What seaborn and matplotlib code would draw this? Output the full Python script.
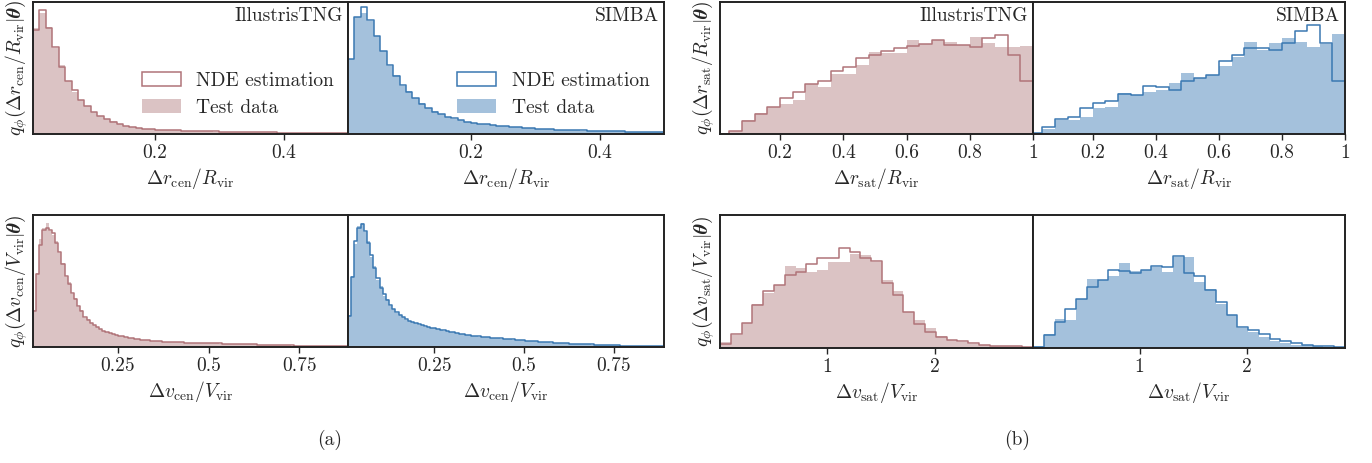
import numpy as np
import matplotlib
matplotlib.use('Agg')
import matplotlib.pyplot as plt
from matplotlib.patches import Patch
import seaborn as sns

# ---- data (normalised histogram heights) ----
rcen_edges = np.linspace(0.01, 0.50, 50)
vcen_tng_edges = np.linspace(0.016, 0.884, 101)
vcen_simba_edges = np.linspace(0.01, 0.89, 101)
rsat_edges = np.linspace(0.0, 1.0, 26)
vsat_edges = np.linspace(0.01, 2.91, 30)

tng_rcen_nde = [0.79, 0.94, 0.80, 0.66, 0.51, 0.40, 0.33, 0.26, 0.21, 0.17,
                0.135, 0.115, 0.093, 0.077, 0.062, 0.055, 0.047, 0.041, 0.036, 0.033,
                0.031, 0.029, 0.027, 0.025, 0.024, 0.022, 0.021, 0.020, 0.019, 0.018,
                0.017, 0.016, 0.015, 0.015, 0.014, 0.013, 0.013, 0.012, 0.011, 0.011,
                0.010, 0.010, 0.009, 0.009, 0.008, 0.008, 0.008, 0.007, 0.007]
tng_rcen_test = [0.80, 0.92, 0.81, 0.65, 0.52, 0.40, 0.32, 0.26, 0.21, 0.165,
                 0.135, 0.112, 0.095, 0.075, 0.064, 0.054, 0.048, 0.040, 0.037, 0.032,
                 0.031, 0.028, 0.027, 0.026, 0.023, 0.022, 0.021, 0.020, 0.018, 0.018,
                 0.017, 0.016, 0.015, 0.014, 0.014, 0.013, 0.012, 0.012, 0.011, 0.011,
                 0.010, 0.009, 0.009, 0.009, 0.008, 0.008, 0.007, 0.007, 0.007]

simba_rcen_nde = [0.57, 0.89, 0.96, 0.86, 0.74, 0.63, 0.52, 0.44, 0.37, 0.32,
                  0.27, 0.23, 0.20, 0.17, 0.15, 0.13, 0.118, 0.103, 0.093, 0.083,
                  0.078, 0.072, 0.067, 0.063, 0.059, 0.055, 0.051, 0.047, 0.043, 0.040,
                  0.038, 0.036, 0.034, 0.032, 0.030, 0.028, 0.027, 0.025, 0.024, 0.022,
                  0.021, 0.020, 0.019, 0.018, 0.016, 0.015, 0.014, 0.013, 0.012]
simba_rcen_test = [0.57, 0.885, 0.92, 0.855, 0.74, 0.625, 0.515, 0.445, 0.365, 0.325,
                   0.27, 0.232, 0.198, 0.172, 0.148, 0.132, 0.116, 0.104, 0.092, 0.084,
                   0.077, 0.073, 0.066, 0.063, 0.058, 0.055, 0.050, 0.047, 0.044, 0.040,
                   0.038, 0.035, 0.034, 0.031, 0.030, 0.028, 0.026, 0.025, 0.023, 0.022,
                   0.021, 0.019, 0.019, 0.017, 0.016, 0.015, 0.014, 0.013, 0.012]

tng_vcen_nde = [0.27, 0.55, 0.77, 0.89, 0.90, 0.89, 0.86, 0.79, 0.72, 0.63,
                0.54, 0.48, 0.41, 0.36, 0.31, 0.27, 0.23, 0.205, 0.185, 0.165,
                0.15, 0.135, 0.125, 0.115, 0.105, 0.10, 0.09, 0.085, 0.08, 0.075,
                0.07, 0.066, 0.063, 0.058, 0.056, 0.053, 0.05, 0.048, 0.046, 0.043,
                0.042, 0.041, 0.040, 0.039, 0.038, 0.037, 0.036, 0.035, 0.034, 0.033,
                0.033, 0.032, 0.032, 0.031, 0.030, 0.030, 0.029, 0.028, 0.027, 0.027,
                0.026, 0.025, 0.025, 0.024, 0.023, 0.023, 0.022, 0.021, 0.020, 0.020,
                0.019, 0.018, 0.018, 0.017, 0.016, 0.016, 0.015, 0.015, 0.014, 0.013,
                0.013, 0.012, 0.012, 0.011, 0.011, 0.010, 0.010, 0.009, 0.009, 0.008,
                0.008, 0.007, 0.007, 0.007, 0.006, 0.006, 0.005, 0.005, 0.005, 0.004]
tng_vcen_test = [0.28, 0.56, 0.82, 0.90, 0.94, 0.88, 0.85, 0.80, 0.71, 0.64,
                 0.53, 0.49, 0.40, 0.37, 0.30, 0.28, 0.22, 0.21, 0.18, 0.168,
                 0.148, 0.137, 0.122, 0.117, 0.103, 0.10, 0.092, 0.084, 0.081, 0.074,
                 0.071, 0.065, 0.063, 0.059, 0.055, 0.053, 0.051, 0.047, 0.046, 0.044,
                 0.042, 0.040, 0.040, 0.038, 0.038, 0.036, 0.036, 0.035, 0.033, 0.033,
                 0.032, 0.032, 0.031, 0.031, 0.030, 0.029, 0.029, 0.028, 0.027, 0.026,
                 0.026, 0.025, 0.024, 0.024, 0.023, 0.022, 0.022, 0.021, 0.020, 0.019,
                 0.019, 0.018, 0.017, 0.017, 0.016, 0.016, 0.015, 0.014, 0.014, 0.013,
                 0.013, 0.012, 0.011, 0.011, 0.010, 0.010, 0.009, 0.009, 0.008, 0.008,
                 0.008, 0.007, 0.007, 0.006, 0.006, 0.006, 0.005, 0.005, 0.004, 0.004]

simba_vcen_nde = [0.235, 0.53, 0.80, 0.90, 0.93, 0.88, 0.79, 0.70, 0.60, 0.52,
                  0.45, 0.40, 0.355, 0.32, 0.29, 0.265, 0.245, 0.225, 0.21, 0.20,
                  0.19, 0.18, 0.172, 0.165, 0.158, 0.152, 0.147, 0.142, 0.137, 0.132,
                  0.127, 0.122, 0.117, 0.112, 0.107, 0.102, 0.098, 0.094, 0.090, 0.087,
                  0.084, 0.081, 0.078, 0.075, 0.073, 0.071, 0.069, 0.067, 0.065, 0.063,
                  0.061, 0.059, 0.057, 0.055, 0.053, 0.051, 0.049, 0.047, 0.045, 0.043,
                  0.041, 0.040, 0.038, 0.036, 0.035, 0.033, 0.032, 0.030, 0.029, 0.028,
                  0.026, 0.025, 0.024, 0.023, 0.022, 0.021, 0.020, 0.019, 0.018, 0.017,
                  0.016, 0.015, 0.014, 0.014, 0.013, 0.012, 0.011, 0.011, 0.010, 0.009,
                  0.009, 0.008, 0.008, 0.007, 0.007, 0.006, 0.006, 0.005, 0.005, 0.005]
simba_vcen_test = [0.24, 0.54, 0.78, 0.92, 0.94, 0.87, 0.80, 0.68, 0.61, 0.51,
                   0.46, 0.39, 0.36, 0.31, 0.29, 0.26, 0.24, 0.228, 0.207, 0.198,
                   0.186, 0.181, 0.168, 0.166, 0.155, 0.153, 0.144, 0.141, 0.135, 0.131,
                   0.125, 0.121, 0.115, 0.111, 0.105, 0.101, 0.096, 0.093, 0.089, 0.085,
                   0.083, 0.079, 0.077, 0.074, 0.072, 0.070, 0.068, 0.066, 0.064, 0.062,
                   0.060, 0.058, 0.056, 0.054, 0.052, 0.050, 0.048, 0.046, 0.044, 0.042,
                   0.041, 0.039, 0.037, 0.036, 0.034, 0.033, 0.031, 0.030, 0.028, 0.027,
                   0.026, 0.025, 0.023, 0.022, 0.021, 0.020, 0.019, 0.018, 0.017, 0.016,
                   0.016, 0.015, 0.014, 0.013, 0.012, 0.012, 0.011, 0.010, 0.010, 0.009,
                   0.008, 0.008, 0.007, 0.007, 0.006, 0.006, 0.005, 0.005, 0.005, 0.004]

tng_rsat_nde = [0.0, 0.023, 0.10, 0.155, 0.205, 0.27, 0.315, 0.375, 0.405, 0.48,
                0.51, 0.575, 0.60, 0.63, 0.65, 0.665, 0.685, 0.715, 0.675, 0.675,
                0.66, 0.725, 0.75, 0.60, 0.40]
tng_rsat_test = [0.0, 0.023, 0.105, 0.16, 0.205, 0.23, 0.255, 0.375, 0.355, 0.455,
                 0.455, 0.525, 0.62, 0.61, 0.61, 0.715, 0.685, 0.715, 0.70, 0.675,
                 0.735, 0.69, 0.66, 0.66, 0.667]
simba_rsat_nde = [0.01, 0.055, 0.11, 0.13, 0.20, 0.235, 0.25, 0.305, 0.295, 0.365,
                  0.355, 0.335, 0.40, 0.425, 0.45, 0.55, 0.60, 0.655, 0.65, 0.635,
                  0.69, 0.78, 0.825, 0.69, 0.40]
simba_rsat_test = [0.005, 0.035, 0.105, 0.105, 0.125, 0.20, 0.205, 0.31, 0.295, 0.315,
                   0.335, 0.385, 0.465, 0.425, 0.45, 0.515, 0.58, 0.70, 0.635, 0.69,
                   0.725, 0.70, 0.66, 0.68, 0.755]

tng_vsat_nde = [0.033, 0.105, 0.19, 0.32, 0.43, 0.475, 0.55, 0.57, 0.63, 0.675,
                0.68, 0.75, 0.72, 0.675, 0.655, 0.49, 0.40, 0.27, 0.18, 0.12,
                0.083, 0.063, 0.05, 0.038, 0.023, 0.018, 0.018, 0.013, 0.008]
tng_vsat_test = [0.043, 0.10, 0.19, 0.33, 0.41, 0.47, 0.62, 0.60, 0.575, 0.59,
                 0.65, 0.65, 0.71, 0.70, 0.65, 0.51, 0.425, 0.27, 0.21, 0.15,
                 0.093, 0.063, 0.043, 0.033, 0.025, 0.018, 0.015, 0.013, 0.008]
simba_vsat_nde = [0.01, 0.10, 0.195, 0.29, 0.37, 0.455, 0.51, 0.59, 0.58, 0.565,
                  0.585, 0.62, 0.61, 0.69, 0.565, 0.545, 0.435, 0.345, 0.25, 0.16,
                  0.135, 0.105, 0.068, 0.05, 0.035, 0.025, 0.015, 0.013, 0.008]
simba_vsat_test = [0.018, 0.105, 0.22, 0.21, 0.37, 0.52, 0.51, 0.545, 0.64, 0.58,
                   0.585, 0.61, 0.57, 0.685, 0.685, 0.495, 0.44, 0.33, 0.245, 0.15,
                   0.12, 0.08, 0.055, 0.035, 0.025, 0.023, 0.015, 0.01, 0.008]

# ---- style ----
sns.set_style("ticks")
plt.rcParams['font.family'] = 'serif'
plt.rcParams['font.serif'] = ['cmr10']
plt.rcParams['mathtext.fontset'] = 'cm'
plt.rcParams['axes.unicode_minus'] = False
plt.rcParams['axes.formatter.use_mathtext'] = True

TNG_FILL, TNG_LINE = '#dbc3c4', '#b07479'
SIM_FILL, SIM_LINE = '#a4c1dc', '#3a78b2'
FS = 14

W, H = 1372, 463
fig = plt.figure(figsize=(W / 100, H / 100), dpi=100)


def make_ax(x0, x1, y0, y1):
    # pixel box -> figure fraction
    return fig.add_axes([x0 / W, 1 - y1 / H, (x1 - x0) / W, (y1 - y0) / H])


def draw(ax, edges, nde, test, fill_c, line_c, xlim, ticks, ticklabels, xlabel):
    centers = 0.5 * (edges[:-1] + edges[1:])
    bins = list(edges)  # a list, so seaborn's bins == "auto" check stays scalar
    sns.histplot(x=centers, weights=test, bins=bins, element='step', fill=True,
                 color=fill_c, alpha=1, linewidth=0, ax=ax)
    sns.histplot(x=centers, weights=nde, bins=bins, element='step', fill=False,
                 color=line_c, linewidth=1.1, ax=ax)
    ax.set_xlim(*xlim)
    ax.set_ylim(0, 1)
    ax.set_xticks(ticks)
    ax.set_xticklabels(ticklabels)
    ax.set_yticks([])
    ax.set_ylabel('')
    ax.set_xlabel(xlabel, fontsize=FS, labelpad=3)
    ax.tick_params(axis='x', direction='out', length=4, width=1, labelsize=FS, pad=3)
    for s in ax.spines.values():
        s.set_linewidth(1.4)
        s.set_color('#222222')


def legend(ax, fill_c, line_c):
    handles = [Patch(facecolor='white', edgecolor=line_c, linewidth=1.1, label='NDE estimation'),
               Patch(facecolor=fill_c, edgecolor='none', label='Test data')]
    ax.legend(handles=handles, loc='center', bbox_to_anchor=(0.65, 0.30), frameon=False,
              fontsize=FS, handlelength=2.0, handleheight=0.7, handletextpad=0.8,
              labelspacing=0.45)


def tag(ax, name):
    ax.text(0.983, 0.965, name, ha='right', va='top', fontsize=FS, transform=ax.transAxes)


theta = r'|\mathbfit{\theta})$'

# (a) centrals
ax = make_ax(33, 348, 2, 134)
draw(ax, rcen_edges, tng_rcen_nde, tng_rcen_test, TNG_FILL, TNG_LINE, (0.01, 0.5),
     [0.2, 0.4], ['0.2', '0.4'], r'$\Delta r_{\rm cen}/R_{\rm vir}$')
ax.set_ylabel(r'$q_{\phi}(\Delta r_{\rm cen}/R_{\rm vir}' + theta, fontsize=FS, labelpad=2)
legend(ax, TNG_FILL, TNG_LINE)
tag(ax, 'IllustrisTNG')

ax = make_ax(348, 664, 2, 134)
draw(ax, rcen_edges, simba_rcen_nde, simba_rcen_test, SIM_FILL, SIM_LINE, (0.01, 0.5),
     [0.2, 0.4], ['0.2', '0.4'], r'$\Delta r_{\rm cen}/R_{\rm vir}$')
legend(ax, SIM_FILL, SIM_LINE)
tag(ax, 'SIMBA')

ax = make_ax(33, 348, 215, 347)
draw(ax, vcen_tng_edges, tng_vcen_nde, tng_vcen_test, TNG_FILL, TNG_LINE, (0.016, 0.884),
     [0.25, 0.5, 0.75], ['0.25', '0.5', '0.75'], r'$\Delta v_{\rm cen}/V_{\rm vir}$')
ax.set_ylabel(r'$q_{\phi}(\Delta v_{\rm cen}/V_{\rm vir}' + theta, fontsize=FS, labelpad=2)

ax = make_ax(348, 664, 215, 347)
draw(ax, vcen_simba_edges, simba_vcen_nde, simba_vcen_test, SIM_FILL, SIM_LINE, (0.01, 0.89),
     [0.25, 0.5, 0.75], ['0.25', '0.5', '0.75'], r'$\Delta v_{\rm cen}/V_{\rm vir}$')

# (b) satellites
ax = make_ax(720, 1033, 2, 134)
draw(ax, rsat_edges, tng_rsat_nde, tng_rsat_test, TNG_FILL, TNG_LINE, (0.01, 1.0),
     [0.2, 0.4, 0.6, 0.8, 1.0], ['0.2', '0.4', '0.6', '0.8', '1'], r'$\Delta r_{\rm sat}/R_{\rm vir}$')
ax.set_ylabel(r'$q_{\phi}(\Delta r_{\rm sat}/R_{\rm vir}' + theta, fontsize=FS, labelpad=2)
tag(ax, 'IllustrisTNG')

ax = make_ax(1033, 1345, 2, 134)
draw(ax, rsat_edges, simba_rsat_nde, simba_rsat_test, SIM_FILL, SIM_LINE, (0.01, 1.0),
     [0.2, 0.4, 0.6, 0.8, 1.0], ['0.2', '0.4', '0.6', '0.8', '1'], r'$\Delta r_{\rm sat}/R_{\rm vir}$')
tag(ax, 'SIMBA')

ax = make_ax(720, 1033, 215, 348)
draw(ax, vsat_edges, tng_vsat_nde, tng_vsat_test, TNG_FILL, TNG_LINE, (0.01, 2.91),
     [1, 2], ['1', '2'], r'$\Delta v_{\rm sat}/V_{\rm vir}$')
ax.set_ylabel(r'$q_{\phi}(\Delta v_{\rm sat}/V_{\rm vir}' + theta, fontsize=FS, labelpad=2)

ax = make_ax(1033, 1345, 215, 348)
draw(ax, vsat_edges, simba_vsat_nde, simba_vsat_test, SIM_FILL, SIM_LINE, (0.01, 2.91),
     [1, 2], ['1', '2'], r'$\Delta v_{\rm sat}/V_{\rm vir}$')

fig.text(330 / W, 1 - 440 / H, '(a)', ha='center', va='center', fontsize=FS)
fig.text(1017 / W, 1 - 440 / H, '(b)', ha='center', va='center', fontsize=FS)

fig.savefig('out.png', dpi=100)
